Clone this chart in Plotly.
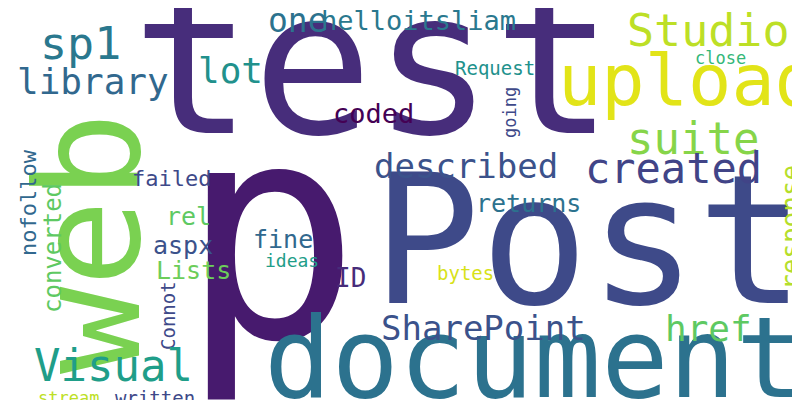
import plotly.graph_objects as go

# word cloud data: word, center x, center y (pixels from top), font size, colour, rotation
words = ["p", "test", "Post", "document", "web", "upload", "Studio", "suite", "created",
         "described", "sp1", "library", "one", "helloitsliam", "lot", "coded", "rel", "aspx",
         "failed", "fine", "ideas", "Lists", "ID", "bytes", "returns", "SharePoint", "href",
         "response", "close", "Request", "going", "nofollow", "converted", "Connot", "Visual",
         "stream", "written"]
xs = [262, 365, 580, 525, 80, 680, 700, 685, 665,
      458, 72, 85, 290, 410, 222, 365, 180, 175,
      163, 275, 284, 185, 342, 457, 520, 475, 700,
      783, 712, 487, 502, 20, 45, 160, 105,
      60, 147]
ys = [225, 55, 232, 350, 235, 72, 22, 130, 160,
      158, 35, 73, 12, 12, 62, 105, 208, 237,
      170, 231, 252, 262, 270, 265, 195, 320, 320,
      220, 50, 60, 105, 195, 240, 308, 357,
      390, 390]
sizes = [300, 200, 180, 112, 145, 72, 45, 44, 42,
         34, 45, 36, 33, 27, 36, 27, 25, 25,
         22, 25, 18, 25, 26, 19, 25, 34, 36,
         26, 17, 19, 17, 22, 24, 19, 44,
         17, 19]
colors = ["#471a6e", "#472d7b", "#3e4a89", "#2c728e", "#7ad151", "#e2e418", "#bddf26", "#86d549", "#414487",
          "#3b528b", "#2a788e", "#31688e", "#2c728e", "#2a788e", "#21918c", "#440154", "#5ec962", "#3b528b",
          "#3e4989", "#31688e", "#1f9e89", "#6ccd5a", "#472c7a", "#d8e219", "#2c728e", "#3b528b", "#5ec962",
          "#b5de2b", "#35b779", "#21918c", "#3e4989", "#31688e", "#5ec962", "#3e4989", "#1f9e89",
          "#bddf26", "#3e4989"]
angles = [0, 0, 0, 0, -90, 0, 0, 0, 0,
          0, 0, 0, 0, 0, 0, 0, 0, 0,
          0, 0, 0, 0, 0, 0, 0, 0, 0,
          -90, 0, 0, -90, -90, -90, -90, 0,
          0, 0]

fig = go.Figure()
fig.add_trace(go.Scatter(x=[0, 800], y=[0, 400], mode="markers",
                         marker=dict(opacity=0), hoverinfo="skip", showlegend=False))

for w, x, y, s, c, a in zip(words, xs, ys, sizes, colors, angles):
    fig.add_annotation(x=x, y=y, xref="x", yref="y", text=w, showarrow=False,
                       textangle=a, font=dict(family="DejaVu Sans Mono", size=s, color=c))

fig.update_xaxes(range=[0, 800], visible=False)
fig.update_yaxes(range=[400, 0], visible=False)
fig.update_layout(width=800, height=400, margin=dict(l=0, r=0, t=0, b=0),
                  plot_bgcolor="white", paper_bgcolor="white")

fig.write_html("out.html")
